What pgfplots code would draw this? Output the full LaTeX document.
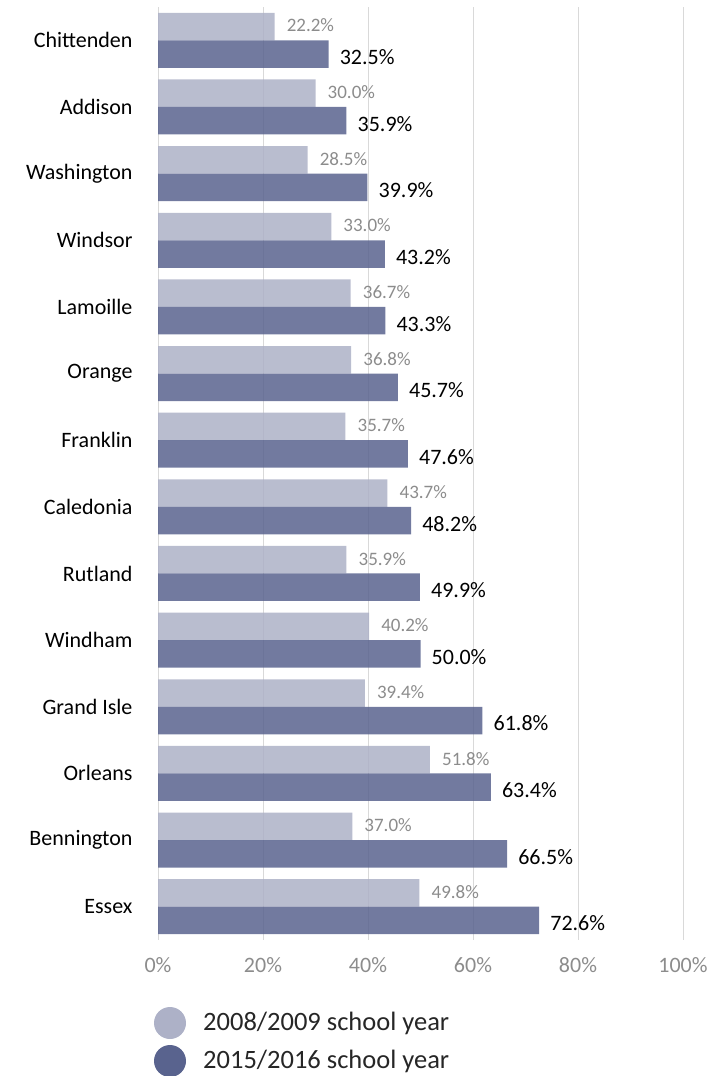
\documentclass[border=0pt]{standalone}
\usepackage{pgfplots}
\pgfplotsset{compat=1.18}
\usepackage{fontspec}
\setmainfont{Carlito}
\definecolor{lightbar}{HTML}{ADB1C7}
\definecolor{darkbar}{HTML}{59638E}
\definecolor{gridc}{HTML}{D9D9D9}
\definecolor{ticktext}{HTML}{8C8C8C}
\begin{document}
\begin{tikzpicture}
\useasboundingbox (0pt,0pt) rectangle (725pt,-1076pt);
\begin{axis}[
  at={(158pt,-7pt)}, anchor=north west,
  scale only axis, width=525pt, height=933pt,
  xbar, y dir=reverse,
  xmin=0, xmax=100, ymin=-0.5, ymax=13.5,
  ytick={0,...,13},
  yticklabels={Chittenden,Addison,Washington,Windsor,Lamoille,Orange,Franklin,Caledonia,Rutland,Windham,Grand Isle,Orleans,Bennington,Essex},
  xtick={0,20,...,100},
  xticklabel={\pgfmathprintnumber{\tick}\%},
  /pgf/number format/assume math mode=true,
  axis line style={draw=none},
  major tick length=0pt,
  xmajorgrids, grid style={draw=gridc, line width=0.9pt},
  yticklabel style={font=\fontsize{22}{26}\selectfont, text=black, xshift=-22pt},
  xticklabel style={font=\fontsize{22}{26}\selectfont, text=ticktext, yshift=-14pt},
  bar width=27.5pt,
  nodes near coords={\pgfmathprintnumber[fixed,fixed zerofill,precision=1]{\pgfplotspointmeta}\%},
]
\addplot[fill=lightbar, draw=none, fill opacity=0.85, bar shift=13.75pt,
  every node near coord/.append style={font=\fontsize{19}{22}\selectfont, text=ticktext, text opacity=1, anchor=west, inner sep=0pt, xshift=12pt, yshift=1pt}]
  coordinates {(22.2,0) (30.0,1) (28.5,2) (33.0,3) (36.7,4) (36.8,5) (35.7,6) (43.7,7) (35.9,8) (40.2,9) (39.4,10) (51.8,11) (37.0,12) (49.8,13)};
\addplot[fill=darkbar, draw=none, fill opacity=0.85, bar shift=-13.75pt,
  every node near coord/.append style={font=\fontsize{22}{26}\selectfont, text=black, text opacity=1, anchor=west, inner sep=0pt, xshift=11pt, yshift=-3pt}]
  coordinates {(32.5,0) (35.9,1) (39.9,2) (43.2,3) (43.3,4) (45.7,5) (47.6,6) (48.2,7) (49.9,8) (50.0,9) (61.8,10) (63.4,11) (66.5,12) (72.6,13)};
\end{axis}
\fill[lightbar] (170pt,-1023pt) circle (16pt);
\node[anchor=west, inner sep=0pt, font=\fontsize{26.5}{30}\selectfont, text=black!85] at (203pt,-1023pt) {2008/2009 school year};
\fill[darkbar] (170pt,-1061pt) circle (16pt);
\node[anchor=west, inner sep=0pt, font=\fontsize{26.5}{30}\selectfont, text=black!85] at (203pt,-1061pt) {2015/2016 school year};
\end{tikzpicture}
\end{document}
